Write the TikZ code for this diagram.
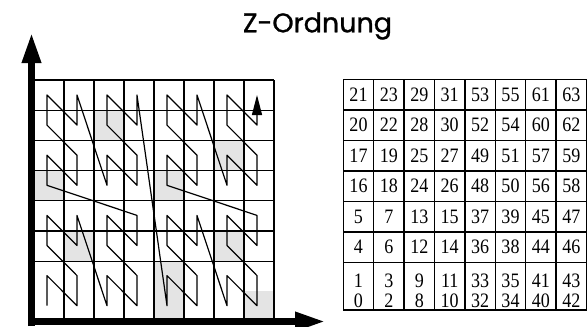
\documentclass[tikz,border=0pt]{standalone}
\usepackage{fontspec}
\setmainfont{Liberation Serif}
\newfontfamily\titlefont{Poppins}[FakeBold=1]
\usetikzlibrary{arrows.meta}
\definecolor{cellgray}{RGB}{228,228,228}
\begin{document}
\begin{tikzpicture}[x=1pt,y=-1pt,
 axis/.style={line width=6.5pt,-{Triangle[length=30pt,width=18pt]}},
 gridline/.style={line width=1.2pt},
 zcurve/.style={line width=1.2pt,line join=round,-{Triangle[length=20pt,width=10pt]}},
 tabline/.style={line width=1.4pt},
 num/.style={font=\fontsize{20.5}{20.5}\selectfont,inner sep=0pt}]
\useasboundingbox (0,0) rectangle (587,327);
\node[font=\titlefont\fontsize{27}{27}\selectfont,anchor=base] (title) at (317.5,32.3) {Z-Ordnung};
\foreach \c/\r in {2/6,6/5,0/4,4/4,1/2,6/2,4/1,4/0,7/0}
 \fill[cellgray] ({34+30*\c},{80+30.2*(7-\r)}) rectangle ++(30,30.2);
\foreach \k in {0,...,8}
 \draw[gridline] ({34+30*\k},80) -- ({34+30*\k},321.6);
\foreach \k in {0,1,2,3,4,5,6,8}
 \draw[gridline] (34,{80+30.2*\k}) -- (274,{80+30.2*\k});
\foreach \c in {0,...,7}
 \foreach \r in {0,...,7}{
 \pgfmathtruncatemacro\zi{mod(\r,2)+2*mod(\c,2)+4*mod(floor(\r/2),2)+8*mod(floor(\c/2),2)+16*floor(\r/4)+32*floor(\c/4)}
 \pgfmathsetmacro\ty{\r>1 ? 94.5+30.5*(7-\r) : (\r==1 ? 280.5 : 300.5)}
 \coordinate (z\zi) at ({47+30*\c},{95+30.1*(7-\r)});
 \node[num] (n\zi) at ({358.5+30.4*\c},\ty) {\scalebox{.88}[1]{\zi}};
 }
\draw[zcurve] (z0) foreach \i in {1,...,63}{ -- (z\i)};
\coordinate (ybase) at (31.5,326);
\coordinate (ytip) at (31.5,33);
\coordinate (xbase) at (28.25,321.5);
\coordinate (xtip) at (325,321.5);
\draw[axis] (ybase) -- (ytip);
\draw[axis] (xbase) -- (xtip);
\foreach \k in {0,...,8}
 \draw[tabline] ({343.3+30.4*\k},79.3) -- ({343.3+30.4*\k},310);
\foreach \k in {0,...,6}
 \draw[tabline] (343.3,{79.3+30.5*\k}) -- (586.5,{79.3+30.5*\k});
\draw[tabline] (343.3,310) -- (586.5,310);
\end{tikzpicture}
\end{document}
